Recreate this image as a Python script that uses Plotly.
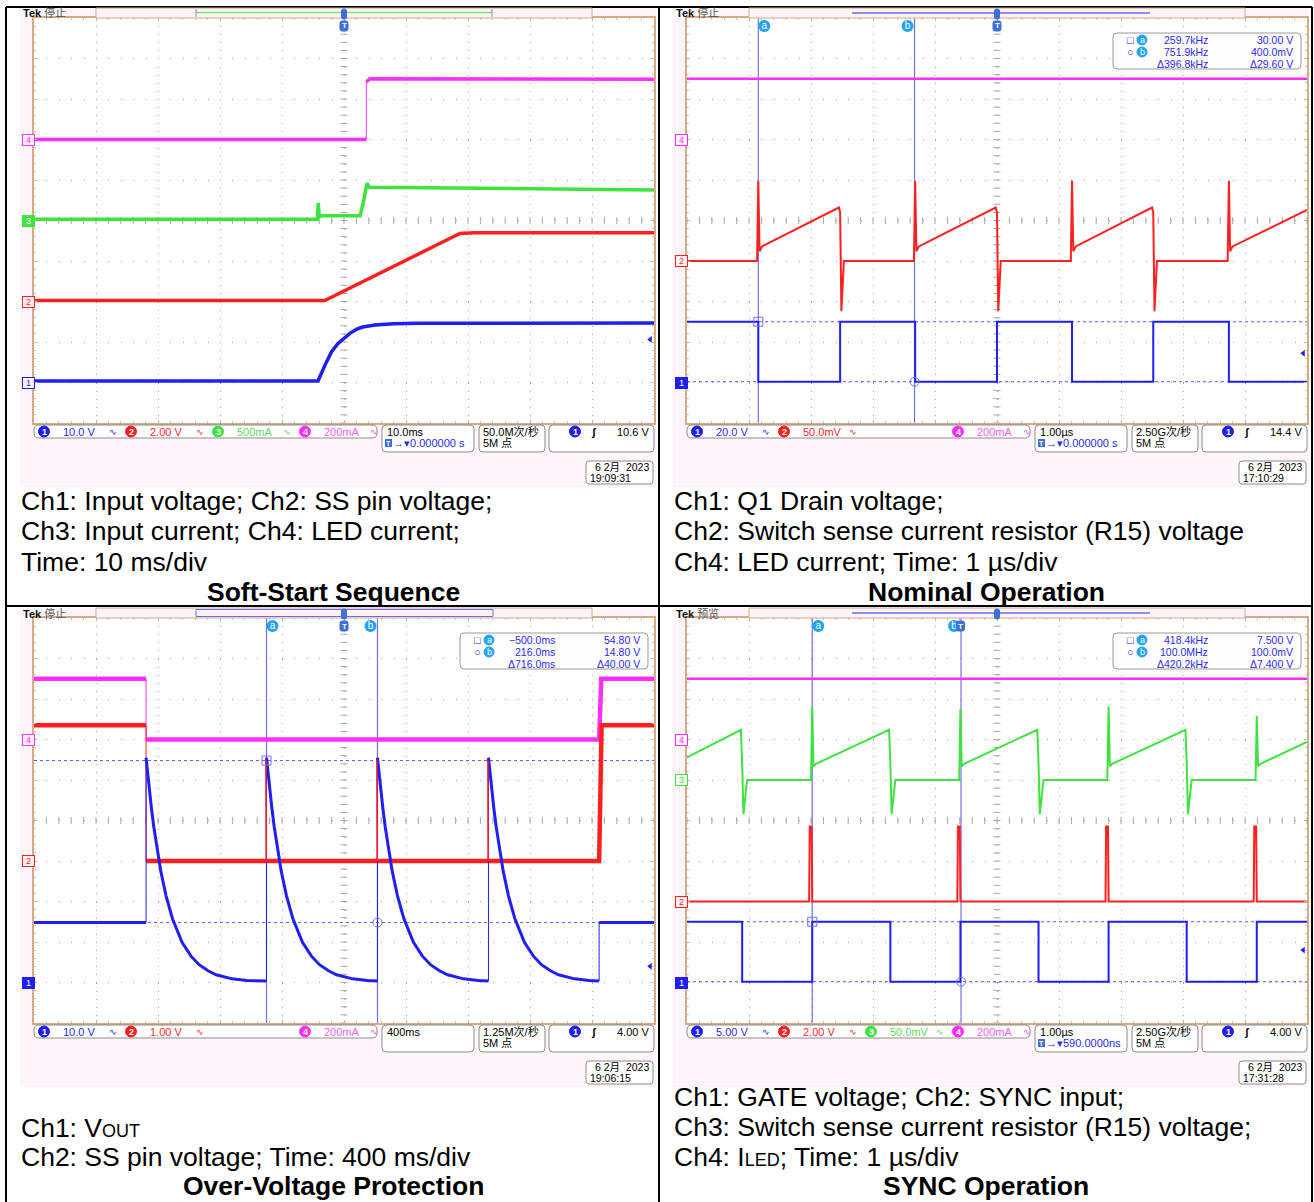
import numpy as np
import plotly.graph_objects as go

W, H = 1314, 1202

# ---------------- Soft-start sequence (10 ms/div) ----------------
SS_T_CH1 = [-50, -4.2, -3.0, -2.0, -1.0, 0.0, 1.0, 2.0, 3.0, 5.0, 8.0, 12.0, 50]
SS_CH1_V = [0.35, 0.35, 4.5, 7.6, 9.6, 10.9, 12.2, 13.1, 13.7, 14.2, 14.5, 14.6, 14.7]
SS_T_CH2 = [-50, -3.1, 18.7, 21.0, 50]
SS_CH2_V = [0.05, 0.05, 3.36, 3.40, 3.40]
SS_T_CH3 = [-50, -4.3, -4.15, -4.0, -3.6, 2.6, 3.2, 3.7, 4.1, 10.0, 50]
SS_CH3_MA = [15, 15, 215, 45, 60, 58, 250, 460, 410, 405, 377]
SS_T_CH4 = [-50, 3.6, 3.6, 4.2, 50]
SS_CH4_MA = [0, 0, 285, 300, 298]

# ---------------- Nominal operation (1 us/div) ----------------
NOM_T_CH1 = [-5.0, -3.85, -3.85, -2.53, -2.53, -1.32, -1.32, 0.0, 0.0, 1.21, 1.21,
             2.52, 2.52, 3.74, 3.74, 5.0]
NOM_CH1_V = [30.0, 30.0, 0.4, 0.4, 30.0, 30.0, 0.4, 0.4, 30.0, 30.0, 0.4,
             0.4, 30.0, 30.0, 0.4, 0.4]
NOM_T_CH2 = [-5.0, -3.87, -3.85, -3.83, -3.79, -2.55, -2.53, -2.51, -2.47,
             -1.34, -1.32, -1.30, -1.26, -0.02, 0.0, 0.02, 0.06,
             1.19, 1.21, 1.23, 1.27, 2.50, 2.52, 2.54, 2.58,
             3.72, 3.74, 3.76, 3.80, 5.0]
NOM_CH2_MV = [0, 0, 99, 12, 18, 66, 60, -62, 0,
              0, 99, 12, 18, 66, 60, -62, 0,
              0, 99, 12, 18, 66, 60, -62, 0,
              0, 99, 12, 18, 63]
NOM_T_CH4 = [-5.0, 5.0]
NOM_CH4_MA = [300, 300]

# ---------------- Over-voltage protection (400 ms/div) ----------------
OVP_TRIP_MS = -1277
OVP_RESTART_MS = [-500, 216, 932]
OVP_RECOVER_MS = 1646
OVP_DECAY_DT_MS = [0, 8, 20, 35, 50, 71, 95, 129, 170, 232, 290, 342, 400, 452, 555, 650]
OVP_DECAY_V = [55.5, 52.3, 47.9, 42.9, 38.4, 32.8, 27.5, 21.4, 15.8, 9.9, 6.5, 4.4, 2.9, 1.9, 0.9, 0.5]
OVP_VOUT_V = 14.8
OVP_FLOOR_V = 0.4
OVP_SS_V = 3.35
OVP_SS_SPIKE_V = 2.5
OVP_LED_MA = 300

# ---------------- SYNC operation (1 us/div) ----------------
SYNC_T_CH1 = [-4.41, -3.52, -3.52, -2.39, -2.39, -1.13, -1.13, 0.0, 0.0, 1.26, 1.26,
              2.39, 2.39, 3.65, 3.65, 4.78, 4.78, 5.59]
SYNC_CH1_V = [7.5, 7.5, 0.1, 0.1, 7.5, 7.5, 0.1, 0.1, 7.5, 7.5, 0.1,
              0.1, 7.5, 7.5, 0.1, 0.1, 7.5, 7.5]
SYNC_T_CH2 = [-4.41, -2.44, -2.43, -2.40, -2.39, -0.05, -0.04, -0.01, 0.0,
              2.34, 2.35, 2.38, 2.39, 4.73, 4.74, 4.77, 4.78, 5.59]
SYNC_CH2_V = [0, 0, 3.7, 3.7, 0, 0, 3.7, 3.7, 0,
              0, 3.7, 3.7, 0, 0, 3.7, 3.7, 0, 0]
SYNC_T_CH3 = [-4.41, -3.54, -3.52, -3.50, -3.44,
              -2.41, -2.39, -2.37, -2.33, -1.15, -1.13, -1.11, -1.05,
              -0.02, 0.0, 0.02, 0.06, 1.24, 1.26, 1.28, 1.34,
              2.37, 2.39, 2.41, 2.45, 3.63, 3.65, 3.67, 3.73,
              4.76, 4.78, 4.80, 4.84, 5.59]
SYNC_CH3_MV = [28, 62, 20, -42, 0,
               0, 90, 17, 20, 62, 20, -42, 0,
               0, 88, 17, 20, 62, 20, -42, 0,
               0, 91, 17, 20, 62, 20, -42, 0,
               0, 79, 17, 20, 47]
SYNC_T_CH4 = [-4.41, 5.59]
SYNC_CH4_MA = [300, 300]

# ---------------- text content ----------------
CAPTIONS = [
    ["Ch1: Input voltage; Ch2: SS pin voltage;", "Ch3: Input current; Ch4: LED current;", "Time: 10 ms/div"],
    ["Ch1: Q1 Drain voltage;", "Ch2: Switch sense current resistor (R15) voltage", "Ch4: LED current; Time: 1 µs/div"],
    ["Ch1: V<span style='font-size:18px'>OUT</span>", "Ch2: SS pin voltage; Time: 400 ms/div"],
    ["Ch1: GATE voltage; Ch2: SYNC input;", "Ch3: Switch sense current resistor (R15) voltage;",
     "Ch4: I<span style='font-size:18px'>LED</span>; Time: 1 µs/div"],
]
TITLES = ["Soft-Start Sequence", "Nominal Operation", "Over-Voltage Protection", "SYNC Operation"]

BLUE = "#1f1ff5"
RED = "#ff1f1f"
GREEN = "#3fe33f"
MAGENTA = "#ff2eff"
TXT_BLUE = "#2a2af0"
TXT_RED = "#f52a2a"
TXT_GREEN = "#5cdc5c"
TXT_MAG = "#f560f5"
TAN = "#d4ab84"
CURSOR = "#7070f2"
CURSOR_DOT = "#5a5af0"
BADGE = "#22a3f3"
SCOPE_FONT = "Liberation Sans, Noto Sans CJK SC, sans-serif"
DOC_FONT = "Liberation Sans, Arial, sans-serif"


def ovp_vout():
    t = [-2000, OVP_TRIP_MS]
    v = [OVP_VOUT_V, OVP_VOUT_V]
    starts = [OVP_TRIP_MS] + OVP_RESTART_MS
    ends = OVP_RESTART_MS + [OVP_RECOVER_MS]
    for s, e in zip(starts, ends):
        for dt, val in zip(OVP_DECAY_DT_MS, OVP_DECAY_V):
            if s + dt < e:
                t.append(s + dt)
                v.append(val)
        t.append(e)
        v.append(OVP_FLOOR_V)
    t += [OVP_RECOVER_MS, 2000]
    v += [OVP_VOUT_V, OVP_VOUT_V]
    return t, v


OVP_T_CH1, OVP_CH1_V = ovp_vout()
OVP_T_CH2 = [-2000, OVP_TRIP_MS, OVP_TRIP_MS, OVP_RECOVER_MS, OVP_RECOVER_MS + 16, 2000]
OVP_CH2_V = [OVP_SS_V, OVP_SS_V, 0.0, 0.0, OVP_SS_V, OVP_SS_V]
OVP_T_SPK, OVP_SPK_V = [], []
for s in OVP_RESTART_MS:
    OVP_T_SPK += [s - 4, s - 4, s, None]
    OVP_SPK_V += [0.0, OVP_SS_SPIKE_V, 0.0, None]
OVP_T_CH4 = [-2000, OVP_TRIP_MS, OVP_TRIP_MS, OVP_RECOVER_MS, OVP_RECOVER_MS + 14, 2000]
OVP_CH4_MA = [OVP_LED_MA, OVP_LED_MA, 0, 0, OVP_LED_MA, OVP_LED_MA]

# channel traces per screen: (time, value, units/div, position in div, colour, width, thin vertical edges)
PANELS = [
    dict(dx=0, dy=0, xr=(-50, 50), xdiv=10, xtick0=0, trig_t=0, bar_x=0,
         traces=[(SS_T_CH4, SS_CH4_MA, 200, 2, MAGENTA, 3.5, True),
                 (SS_T_CH3, SS_CH3_MA, 500, 0, GREEN, 3.5, False),
                 (SS_T_CH2, SS_CH2_V, 2, -2, RED, 3.5, False),
                 (SS_T_CH1, SS_CH1_V, 10, -4, BLUE, 3.5, False)],
         tags=[("4", 2, MAGENTA, False), ("3", 0, GREEN, True), ("2", -2, RED, False), ("1", -4, BLUE, False)],
         trig_level=-4 + 10.6 / 10,
         status="停止", bar="green",
         chans=[("10.0 V", TXT_BLUE, BLUE), ("2.00 V", TXT_RED, RED), ("500mA", TXT_GREEN, GREEN), ("200mA", TXT_MAG, MAGENTA)],
         tb="10.0ms", delay="0.000000 s", rate="50.0M次/秒", trig="10.6 V",
         date="19:09:31", cursors=None),
    dict(dx=653, dy=0, xr=(-5, 5), xdiv=1, xtick0=0, trig_t=0, bar_x=0,
         traces=[(NOM_T_CH4, NOM_CH4_MA, 200, 2, MAGENTA, 2.5, False),
                 (NOM_T_CH2, NOM_CH2_MV, 50, -1, RED, 2, False),
                 (NOM_T_CH1, NOM_CH1_V, 20, -4, BLUE, 2, False)],
         tags=[("4", 2, MAGENTA, False), ("2", -1, RED, False), ("1", -4, BLUE, True)],
         trig_level=-4 + 14.4 / 20,
         status="停止", bar="line",
         chans=[("20.0 V", TXT_BLUE, BLUE), ("50.0mV", TXT_RED, RED), None, ("200mA", TXT_MAG, MAGENTA)],
         tb="1.00µs", delay="0.000000 s", rate="2.50G次/秒", trig="14.4 V",
         date="17:10:29",
         cursors=dict(ta=-3.85, tb=-1.33, ya=-4 + 30.0 / 20, yb=-4 + 0.4 / 20,
                      rows=[("259.7kHz", "30.00 V"), ("751.9kHz", "400.0mV"), ("Δ396.8kHz", "Δ29.60 V")])),
    dict(dx=0, dy=600, xr=(-2000, 2000), xdiv=400, xtick0=0, trig_t=0, bar_x=0,
         traces=[(OVP_T_CH4, OVP_CH4_MA, 200, 2, MAGENTA, 4.5, True),
                 (OVP_T_CH2, OVP_CH2_V, 1, -1, RED, 4.5, True),
                 (OVP_T_CH1, OVP_CH1_V, 10, -4, BLUE, 3, True),
                 (OVP_T_SPK, OVP_SPK_V, 1, -1, RED, 1, False)],
         tags=[("4", 2, MAGENTA, False), ("2", -1, RED, False), ("1", -4, BLUE, True)],
         trig_level=-4 + 4.0 / 10,
         status="停止", bar="box",
         chans=[("10.0 V", TXT_BLUE, BLUE), ("1.00 V", TXT_RED, RED), None, ("200mA", TXT_MAG, MAGENTA)],
         tb="400ms", delay=None, rate="1.25M次/秒", trig="4.00 V",
         date="19:06:15",
         cursors=dict(ta=-500, tb=216, ya=-4 + 54.8 / 10, yb=-4 + 14.8 / 10,
                      rows=[("−500.0ms", "54.80 V"), ("216.0ms", "14.80 V"), ("Δ716.0ms", "Δ40.00 V")])),
    dict(dx=653, dy=600, xr=(-4.41, 5.59), xdiv=1, xtick0=0.59, trig_t=0, bar_x=0.59,
         traces=[(SYNC_T_CH4, SYNC_CH4_MA, 200, 2, MAGENTA, 2.5, False),
                 (SYNC_T_CH3, SYNC_CH3_MV, 50, 1, GREEN, 2, False),
                 (SYNC_T_CH2, SYNC_CH2_V, 2, -2, RED, 2, False),
                 (SYNC_T_CH1, SYNC_CH1_V, 5, -4, BLUE, 2, False)],
         tags=[("4", 2, MAGENTA, False), ("3", 1, GREEN, False), ("2", -2, RED, False), ("1", -4, BLUE, True)],
         trig_level=-4 + 4.0 / 5,
         status="预览", bar="line",
         chans=[("5.00 V", TXT_BLUE, BLUE), ("2.00 V", TXT_RED, RED), ("50.0mV", TXT_GREEN, GREEN), ("200mA", TXT_MAG, MAGENTA)],
         tb="1.00µs", delay="590.0000ns", rate="2.50G次/秒", trig="4.00 V",
         date="17:31:28",
         cursors=dict(ta=-2.39, tb=0.01, ya=-4 + 7.5 / 5, yb=-4 + 0.1 / 5,
                      rows=[("418.4kHz", "7.500 V"), ("100.0MHz", "100.0mV"), ("Δ420.2kHz", "Δ7.400 V")])),
]


def px(x):
    return x / W


def py(y):
    return 1 - y / H


def split_steps(t, v):
    """Separate level runs from the vertical steps between them."""
    lt, lv, et, ev = [], [], [], []
    for k in range(len(t)):
        if k > 0 and t[k] is not None and t[k - 1] is not None and t[k] == t[k - 1]:
            lt.append(None)
            lv.append(None)
            et += [t[k - 1], t[k], None]
            ev += [v[k - 1], v[k], None]
        lt.append(t[k])
        lv.append(v[k])
    return lt, lv, et, ev


shapes = []
annots = []


def rect(x0, y0, x1, y1, line=None, fill=None, width=1, layer="above", dash=None):
    shapes.append(dict(type="rect", xref="paper", yref="paper",
                       x0=px(x0), x1=px(x1), y0=py(y1), y1=py(y0),
                       line=dict(color=line or "rgba(0,0,0,0)", width=width if line else 0, dash=dash),
                       fillcolor=fill or "rgba(0,0,0,0)", layer=layer))


def seg(x0, y0, x1, y1, color, width=1, dash=None, layer="above"):
    shapes.append(dict(type="line", xref="paper", yref="paper",
                       x0=px(x0), x1=px(x1), y0=py(y0), y1=py(y1),
                       line=dict(color=color, width=width, dash=dash), layer=layer))


def rrect(x0, y0, x1, y1, r=3, line="#8c8c8c", fill="#ffffff", width=1):
    X, Y = px, py
    path = (f"M{X(x0 + r)},{Y(y0)} L{X(x1 - r)},{Y(y0)} Q{X(x1)},{Y(y0)} {X(x1)},{Y(y0 + r)} "
            f"L{X(x1)},{Y(y1 - r)} Q{X(x1)},{Y(y1)} {X(x1 - r)},{Y(y1)} L{X(x0 + r)},{Y(y1)} "
            f"Q{X(x0)},{Y(y1)} {X(x0)},{Y(y1 - r)} L{X(x0)},{Y(y0 + r)} Q{X(x0)},{Y(y0)} {X(x0 + r)},{Y(y0)} Z")
    shapes.append(dict(type="path", xref="paper", yref="paper", path=path,
                       line=dict(color=line, width=width), fillcolor=fill, layer="above"))


def circ(cx, cy, r, fill, line=None):
    shapes.append(dict(type="circle", xref="paper", yref="paper",
                       x0=px(cx - r), x1=px(cx + r), y0=py(cy + r), y1=py(cy - r),
                       line=dict(color=line or fill, width=1), fillcolor=fill, layer="above"))


def text(x, y, s, size=11, color="#000000", anchor="left", family=SCOPE_FONT, **kw):
    annots.append(dict(x=px(x), y=py(y), xref="paper", yref="paper", text=s, showarrow=False,
                       xanchor=anchor, yanchor="middle",
                       font=dict(size=size, color=color, family=family), **kw))


fig = go.Figure()

# document table rules
for xl in (6, 659, 1312):
    seg(xl, 7, xl, 1202, "#000000", 2)
for yl in (7, 606):
    seg(6, yl, 1312, yl, "#000000", 2)

layout_axes = {}
for i, c in enumerate(PANELS):
    n = "" if i == 0 else str(i + 1)
    xa, ya = "x" + n, "y" + n
    dx, dy = c["dx"], c["dy"]
    gx0, gx1, gy0, gy1 = 34 + dx, 654 + dx, 18 + dy, 423 + dy
    xr0, xr1 = c["xr"]
    xdiv = c["xdiv"]

    # screen background and graticule area
    rect(20 + dx, 8 + dy, 656 + dx, 487 + dy, fill="#fdf5fa", layer="below")
    rect(gx0, gy0, gx1, gy1, fill="#ffffff", layer="below")

    common = dict(showticklabels=False, zeroline=False, showline=True, linecolor=TAN, linewidth=1.5,
                  mirror="ticks", ticks="inside", ticklen=3, tickcolor="#b5b5b5", tickwidth=1,
                  showgrid=True, gridcolor="#a2a2a2", gridwidth=1, fixedrange=True)
    layout_axes["xaxis" + n] = dict(common, domain=[px(gx0), px(gx1)], range=[xr0, xr1], anchor=ya,
                                    dtick=xdiv, tick0=c["xtick0"], griddash="1px,7.1px",
                                    minor=dict(dtick=xdiv / 5, tick0=c["xtick0"], ticks="inside", ticklen=2,
                                               tickcolor="#c0c0c0", showgrid=False))
    layout_axes["yaxis" + n] = dict(common, domain=[py(gy1), py(gy0)], range=[-5, 5], anchor=xa,
                                    dtick=1, tick0=0, griddash="1px,11.4px",
                                    minor=dict(dtick=0.2, tick0=0, ticks="inside", ticklen=2,
                                               tickcolor="#c0c0c0", showgrid=False))

    # tick marks on the centre cross
    xc = (xr0 + xr1) / 2
    yt = np.arange(-5, 5.001, 0.2)
    xt = xr0 + np.arange(0, 50.001, 1) * xdiv / 5
    fig.add_trace(go.Scatter(x=np.full(yt.size, xc), y=yt, mode="markers", xaxis=xa, yaxis=ya,
                             marker=dict(symbol="line-ew", size=5, line=dict(color="#a8a8a8", width=1)),
                             hoverinfo="skip"))
    fig.add_trace(go.Scatter(x=xt, y=np.zeros(xt.size), mode="markers", xaxis=xa, yaxis=ya,
                             marker=dict(symbol="line-ns", size=5, line=dict(color="#a8a8a8", width=1)),
                             hoverinfo="skip"))

    # cursors (below the waveforms)
    cur = c["cursors"]
    if cur:
        for yv in (cur["ya"], cur["yb"]):
            fig.add_trace(go.Scatter(x=[xr0, xr1], y=[yv, yv], mode="lines", xaxis=xa, yaxis=ya,
                                     line=dict(color=CURSOR_DOT, width=1, dash="dot"), hoverinfo="skip"))
        for tv in (cur["ta"], cur["tb"]):
            fig.add_trace(go.Scatter(x=[tv, tv], y=[-5, 5], mode="lines", xaxis=xa, yaxis=ya,
                                     line=dict(color=CURSOR, width=1.2), hoverinfo="skip"))

    # waveforms
    for t, v, scale, pos, color, width, thin_edges in c["traces"]:
        yy = [None if val is None else pos + val / scale for val in v]
        if thin_edges:
            lt, lv, et, ev = split_steps(t, yy)
            fig.add_trace(go.Scatter(x=et, y=ev, mode="lines", xaxis=xa, yaxis=ya,
                                     line=dict(color=color, width=1), hoverinfo="skip", connectgaps=False))
            fig.add_trace(go.Scatter(x=lt, y=lv, mode="lines", xaxis=xa, yaxis=ya,
                                     line=dict(color=color, width=width), hoverinfo="skip", connectgaps=False))
        else:
            fig.add_trace(go.Scatter(x=t, y=yy, mode="lines", xaxis=xa, yaxis=ya,
                                     line=dict(color=color, width=width), hoverinfo="skip", connectgaps=False))

    # cursor markers and labels
    if cur:
        fig.add_trace(go.Scatter(x=[cur["ta"]], y=[cur["ya"]], mode="markers", xaxis=xa, yaxis=ya,
                                 marker=dict(symbol="square-open", size=9, color=CURSOR, line=dict(width=1)),
                                 hoverinfo="skip"))
        fig.add_trace(go.Scatter(x=[cur["tb"]], y=[cur["yb"]], mode="markers", xaxis=xa, yaxis=ya,
                                 marker=dict(symbol="circle-open", size=9, color=CURSOR, line=dict(width=1)),
                                 hoverinfo="skip"))
        step = xdiv / 62.0
        fig.add_trace(go.Scatter(x=[cur["ta"] + 6 * step, cur["tb"] - 7 * step], y=[4.8, 4.8],
                                 mode="markers+text", text=["a", "b"], xaxis=xa, yaxis=ya,
                                 textfont=dict(color="#ffffff", size=10, family=SCOPE_FONT),
                                 textposition="middle center",
                                 marker=dict(symbol="circle", size=12, color=BADGE), hoverinfo="skip"))

    # trigger level arrow
    fig.add_trace(go.Scatter(x=[xr1 - 0.06 * xdiv], y=[c["trig_level"]], mode="markers", xaxis=xa, yaxis=ya,
                             marker=dict(symbol="triangle-left", size=6, color=BLUE), hoverinfo="skip"))

    # channel reference tags at the left edge
    for lab, pos, color, filled in c["tags"]:
        annots.append(dict(x=px(28 + dx), y=pos, xref="paper", yref=ya, text=lab, showarrow=False,
                           xanchor="center", yanchor="middle",
                           font=dict(size=9, color="#ffffff" if filled else color, family=SCOPE_FONT),
                           bgcolor=color if filled else "#fff4fb", bordercolor=color, borderwidth=1,
                           borderpad=0, width=11, height=10))

    # top bar: status, record view, trigger marker
    annots.append(dict(x=px(21 + dx), y=py(13 + dy), xref="paper", yref="paper", showarrow=False,
                       xanchor="left", yanchor="middle",
                       text=f"<b>Tek</b> <span style='color:#555555'>{c['status']}</span>",
                       font=dict(size=11, color="#111111", family=SCOPE_FONT)))
    rect(96 + dx, 8 + dy, 592 + dx, 18 + dy, line=TAN, fill="#fdf3f8", width=1)
    if c["bar"] == "green":
        seg(196 + dx, 12.5 + dy, 492 + dx, 12.5 + dy, "#6fec6f", 1.5)
        seg(196 + dx, 9 + dy, 196 + dx, 17 + dy, "#8090a0", 1)
        seg(492 + dx, 9 + dy, 492 + dx, 17 + dy, "#8090a0", 1)
    elif c["bar"] == "box":
        rect(196 + dx, 9.5 + dy, 493 + dx, 16.5 + dy, line="#6a6af0", width=1)
    else:
        seg(199 + dx, 13 + dy, 497 + dx, 13 + dy, "#6a6af0", 1.5)
    # record-window marker on the bar
    bx = 34 + dx + (c["bar_x"] - xr0) / (xr1 - xr0) * 620
    rrect(bx - 2.5, 9 + dy, bx + 2.5, 19 + dy, r=2, line="#3d6fd6", fill="#3d6fd6")
    # trigger position tag
    tx = 34 + dx + (c["trig_t"] - xr0) / (xr1 - xr0) * 620
    rrect(tx - 4, 21 + dy, tx + 4, 31 + dy, r=2, line="#3d6fd6", fill="#3d6fd6")
    text(tx, 26 + dy, "<b>T</b>", size=8, color="#ffffff", anchor="center")

    # cursor readout box
    if cur:
        rrect(460 + dx, 33 + dy, 648 + dx, 69 + dy, r=4, line="#9a9a9a", fill="#fffdfe")
        for k, (left, right) in enumerate(cur["rows"]):
            yrow = 40 + 12 * k + dy
            if k < 2:
                text(477 + dx, yrow, "□" if k == 0 else "○", size=11, color=TXT_BLUE, anchor="center")
                circ(489 + dx, yrow, 5, BADGE)
                text(489 + dx, yrow, "a" if k == 0 else "b", size=9, color="#ffffff", anchor="center")
            text(557 + dx, yrow, left, size=10.5, color=TXT_BLUE, anchor="right")
            text(642 + dx, yrow, right, size=10.5, color=TXT_BLUE, anchor="right")

    # bottom status bar
    rrect(34 + dx, 425 + dy, 377 + dx, 438 + dy, r=5)
    for k, ch in enumerate(c["chans"]):
        if ch is None:
            continue
        label, tcol, ccol = ch
        cx = 44 + 87 * k + dx
        circ(cx, 431.5 + dy, 5.5, ccol)
        text(cx, 431.5 + dy, f"<b>{k + 1}</b>", size=9, color="#ffffff", anchor="center")
        text(cx + 17, 431.5 + dy, label, size=11, color=tcol)
        text(cx + 69, 431.5 + dy, "∿", size=9, color=tcol, anchor="center")
    rrect(382 + dx, 425 + dy, 474 + dx, 452 + dy, r=4)
    text(385 + dx, 431.5 + dy, c["tb"], size=11)
    if c["delay"]:
        rect(385 + dx, 439 + dy, 392 + dx, 447 + dy, fill="#3d6fd6")
        text(388.5 + dx, 443 + dy, "<b>T</b>", size=7, color="#ffffff", anchor="center")
        text(391 + dx, 443 + dy, "→▾" + c["delay"], size=11, color=TXT_BLUE)
    rrect(479 + dx, 425 + dy, 545 + dx, 452 + dy, r=4)
    text(481 + dx, 431.5 + dy, c["rate"], size=11)
    text(481 + dx, 443 + dy, "5M 点", size=11)
    rrect(549 + dx, 425 + dy, 654 + dx, 452 + dy, r=4)
    circ(575 + dx, 431.5 + dy, 5.5, BLUE)
    text(575 + dx, 431.5 + dy, "<b>1</b>", size=9, color="#ffffff", anchor="center")
    text(594 + dx, 431.5 + dy, "<b>ʃ</b>", size=11, color="#000000", anchor="center")
    text(651 + dx, 431.5 + dy, c["trig"], size=11, anchor="right")
    rrect(586 + dx, 461 + dy, 653 + dx, 484 + dy, r=3)
    text(651 + dx, 467 + dy, "6 2月  2023", size=10.5, anchor="right")
    text(588 + dx, 478 + dy, c["date"], size=10.5)

# captions under each screen
CAP_Y = [[501, 531, 562], [501, 531, 562], [1128, 1157], [1097, 1127, 1157]]
CAP_X = [19, 672, 19, 672]
TITLE_POS = [(333, 592), (986, 592), (333, 1186), (986, 1186)]
for lines, ys, x0 in zip(CAPTIONS, CAP_Y, CAP_X):
    for s, yv in zip(lines, ys):
        text(x0, yv, s, size=26.5, family=DOC_FONT)
for s, (xv, yv) in zip(TITLES, TITLE_POS):
    text(xv, yv, f"<b>{s}</b>", size=26.5, family=DOC_FONT, anchor="center")

fig.update_layout(width=W, height=H, margin=dict(l=0, r=0, t=0, b=0),
                  paper_bgcolor="#ffffff", plot_bgcolor="#ffffff",
                  showlegend=False, hovermode=False,
                  shapes=shapes, annotations=annots, **layout_axes)

fig.write_html("out.html")
